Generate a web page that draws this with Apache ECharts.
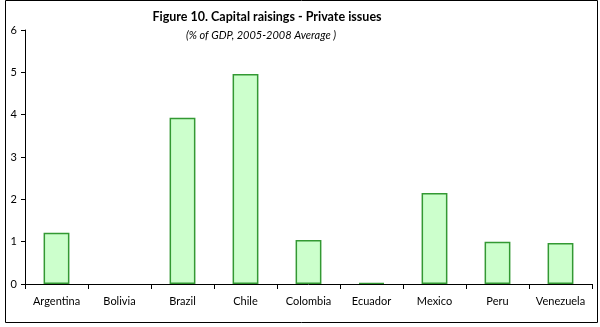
<!DOCTYPE html>
<html>
<head>
<meta charset="utf-8">
<script src="https://cdn.jsdelivr.net/npm/echarts@6/dist/echarts.min.js"></script>
<style>
html,body{margin:0;padding:0;background:#fff;}
#chart{width:600px;height:327px;}
</style>
</head>
<body>
<div id="chart"></div>
<script>
// Capital raisings by private issuers, % of GDP (2005-2008 average)
const countries = ['Argentina', 'Bolivia', 'Brazil', 'Chile', 'Colombia', 'Ecuador', 'Mexico', 'Peru', 'Venezuela'];
const privateIssues = [1.21, 0, 3.93, 4.96, 1.04, 0.02, 2.15, 1.0, 0.97];
const yTicks = [0, 1, 2, 3, 4, 5, 6];

const chart = echarts.init(document.getElementById('chart'));
const font = 'Lato, Open Sans, sans-serif';

// zero values get no outline so nothing is drawn for them
const barData = privateIssues.map(v => v === 0 ? { value: v, itemStyle: { borderWidth: 0 } } : v);

chart.setOption({
  animation: false,
  backgroundColor: '#fff',
  graphic: [{
    type: 'rect',
    shape: { x: 5.5, y: 0.5, width: 592, height: 322 },
    style: { fill: 'none', stroke: '#000', lineWidth: 1 }
  }],
  title: [{
    text: 'Figure 10. Capital raisings - Private issues',
    left: 262, top: 5, textAlign: 'center',
    textStyle: { fontFamily: font, fontSize: 12.5, fontWeight: 'bold', color: '#000' }
  }, {
    text: '(% of GDP, 2005-2008 Average )',
    left: 256, top: 25, textAlign: 'center',
    textStyle: { fontFamily: font, fontSize: 11, fontStyle: 'italic', fontWeight: 'normal', color: '#000' }
  }],
  grid: { left: 25, right: 8, top: 30, bottom: 43, containLabel: false },
  xAxis: {
    type: 'category',
    data: countries,
    z: 3,
    axisLine: { lineStyle: { color: '#000', width: 1 } },
    axisTick: { show: true, alignWithLabel: false, length: 5, lineStyle: { color: '#000' } },
    axisLabel: { fontFamily: font, fontSize: 11, color: '#000', margin: 12, interval: 0 },
    splitLine: { show: false }
  },
  yAxis: {
    type: 'value',
    min: yTicks[0], max: yTicks[yTicks.length - 1], interval: 1,
    axisLine: { show: true, lineStyle: { color: '#000', width: 1 } },
    axisTick: { show: true, length: 4, lineStyle: { color: '#000' } },
    axisLabel: { fontFamily: font, fontSize: 11, color: '#000', margin: 8 },
    splitLine: { show: false }
  },
  series: [{
    type: 'bar',
    data: barData,
    barWidth: '41%',
    z: 2,
    itemStyle: { color: '#ccffcc', borderColor: '#339933', borderWidth: 1.5 }
  }]
});
</script>
</body>
</html>
